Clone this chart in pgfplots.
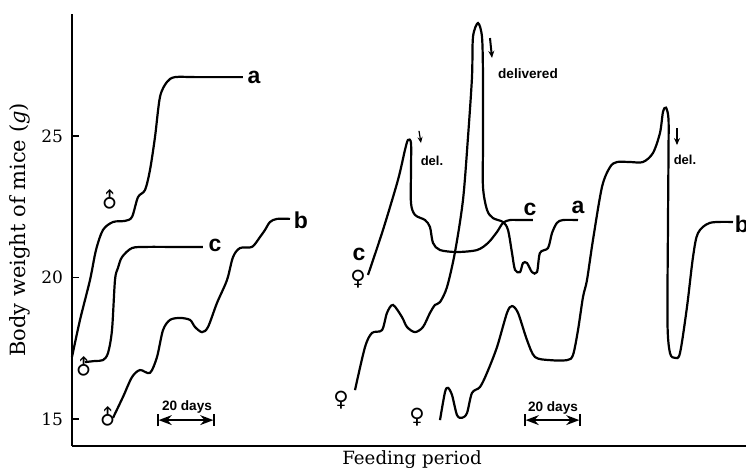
\documentclass[border=0pt]{standalone}
\usepackage{pgfplots}
\pgfplotsset{compat=1.18}
\usetikzlibrary{arrows.meta}
\usepackage{fontspec}
\setmainfont{DejaVu Serif}
\newfontfamily\lblfont{Liberation Sans}
\newfontfamily\symfont{DejaVu Sans}
\tikzset{
  lbl/.style={font={\fontsize{11.5}{12}\lblfont\bfseries}, inner sep=0pt},
  sm/.style={font={\fontsize{6.8}{8}\lblfont\bfseries}, inner sep=0pt},
  sym/.style={font={\fontsize{10.5}{11}\symfont}, inner sep=0pt},
  crv/.style={black, solid, line width=1.1pt, smooth, tension=0.5, mark=none},
}
\begin{document}
\begin{tikzpicture}
\begin{axis}[name=ax, scale only axis, width=337pt, height=216pt,
  xmin=72, xmax=746, ymin=14.046, ymax=29.31,
  axis x line*=bottom, axis y line*=left,
  axis line style={line width=1.4pt,-},
  xtick=\empty, ytick={15,20,25},
  tick align=inside, major tick length=3.5pt,
  tick style={line width=0.8pt, black},
  yticklabel style={font=\fontsize{8.5}{10}\selectfont, xshift=-1pt},
  /pgf/number format/assume math mode=true,
  clip=false,
]
% male a
\addplot[crv] coordinates {(72,17.19) (80,18.50) (90,19.91) (96,20.97) (103,21.68) (113,21.96) (125,22.0) (132,22.14) (138,22.84) (145,23.09) (150,23.80) (155,24.96) (160,26.38) (167,26.91) (175,27.08) (195,27.08) (220,27.08) (243,27.08)};
% male c
\addplot[crv] coordinates {(85,17.01) (95,17.05) (103,17.08) (108,17.33) (112,18.14) (115,19.91) (118,20.34) (122,20.72) (132,21.04) (147,21.08) (170,21.08) (203,21.08)};
% male b
\addplot[crv] coordinates {(113,15.04) (123,15.78) (132,16.48) (140,16.73) (150,16.63) (157,17.19) (163,18.14) (170,18.50) (180,18.57) (190,18.50) (195,18.25) (202,18.07) (208,18.25) (217,19.10) (227,19.91) (233,20.72) (240,21.04) (252,21.08) (260,21.43) (265,21.68) (270,21.96) (277,22.07) (290,22.07)};
% female c
\addplot[crv] coordinates {(368,20.09) (383,21.68) (398,23.45) (405,24.51) (408,24.86) (411,24.75) (411,23.80) (411,22.63) (415,22.21) (425,22.03) (430,21.78) (433,21.22) (440,20.97) (457,20.90) (477,20.97) (488,21.22) (497,21.61) (503,21.93) (510,22.03) (520,22.03) (533,22.03)};
% female a
\addplot[crv] coordinates {(355,16.02) (365,17.54) (372,18.04) (382,18.14) (387,18.75) (393,19.03) (402,18.60) (407,18.25) (415,18.07) (423,18.25) (430,18.75) (435,19.03) (440,19.13) (447,19.66) (455,20.90) (463,22.74) (468,24.96) (472,27.08) (473,28.50) (478,28.99) (482,28.50) (483,27.08) (483,24.75) (483,23.20) (487,22.39) (493,22.10) (503,21.96) (508,21.68) (512,20.87) (515,20.27) (520,20.19) (523,20.51) (527,20.51) (532,20.19) (537,20.19) (540,20.87) (548,21.04) (552,21.57) (557,21.93) (563,22.03) (578,22.03)};
% female b
\addplot[crv] coordinates {(440,14.96) (445,15.95) (448,16.10) (452,15.85) (457,15.14) (462,15.04) (467,15.21) (472,15.92) (480,16.13) (487,16.63) (497,17.54) (507,18.75) (512,18.99) (518,18.75) (527,17.79) (535,17.19) (550,17.08) (567,17.08) (573,17.26) (578,18.14) (583,19.31) (587,19.91) (593,21.33) (602,23.20) (610,23.90) (617,24.08) (630,24.08) (643,24.08) (653,24.40) (660,25.11) (663,25.85) (666,26.0) (668.5,25.6) (668.5,24.4) (668,21.93) (667.5,18.39) (670,17.33) (675,17.16) (680,17.33) (687,18.96) (693,20.72) (698,21.57) (710,21.93) (733,21.96)};
% labels
\node[lbl] at (axis cs:254,27.08) {a};
\node[lbl] at (axis cs:215,21.15) {c};
\node[lbl] at (axis cs:301,22.03) {b};
\node[lbl] at (axis cs:359,20.83) {c};
\node[lbl] at (axis cs:530,22.39) {c};
\node[lbl] at (axis cs:578,22.46) {a};
\node[lbl] at (axis cs:742,21.89) {b};
% sex symbols
\node[sym, rotate=45] at (axis cs:110,22.70) {♂};
\node[sym, rotate=45] at (axis cs:84,16.80) {♂};
\node[sym, rotate=45] at (axis cs:108,15.04) {♂};
\node[sym] at (axis cs:358,19.95) {♀};
\node[sym] at (axis cs:341,15.67) {♀};
\node[sym] at (axis cs:417,15.07) {♀};
% 20 days bars
\node[sm] at (axis cs:187,15.42) {20 days};
\draw[line width=0.8pt, |<->|, >=Stealth] (axis cs:157,14.96) -- (axis cs:215,14.96);
\node[sm] at (axis cs:553,15.39) {20 days};
\draw[line width=0.8pt, |<->|, >=Stealth] (axis cs:524,14.96) -- (axis cs:581,14.96);
% delivery notes
\draw[line width=0.6pt, -{Stealth[length=3pt,width=2.5pt]}] (axis cs:419,25.18) -- (axis cs:421,24.75);
\node[sm, font={\fontsize{6.5}{8}\lblfont\bfseries}] at (axis cs:432,24.12) {del.};
\draw[line width=1pt, -{Stealth[length=3.5pt,width=3pt]}] (axis cs:490,28.46) -- (axis cs:492,27.76);
\node[sm] at (axis cs:528,27.19) {delivered};
\draw[line width=0.9pt, -{Stealth[length=3.5pt,width=3pt]}] (axis cs:677,25.28) -- (axis cs:677,24.68);
\node[sm, font={\fontsize{6.5}{8}\lblfont\bfseries}] at (axis cs:685,24.15) {del.};
% axis titles
\node[rotate=90, font=\fontsize{10.5}{12}\selectfont] at (axis cs:20,21.68) {Body weight of mice (\textit{g})};
\node[font=\fontsize{9.1}{11}\selectfont] at (axis cs:412,13.55) {Feeding period};
\end{axis}
\pgfresetboundingbox
\path[use as bounding box] ([shift={(-36pt,-12pt)}]ax.south west) rectangle ([shift={(337pt,223pt)}]ax.south west);
\end{tikzpicture}
\end{document}
